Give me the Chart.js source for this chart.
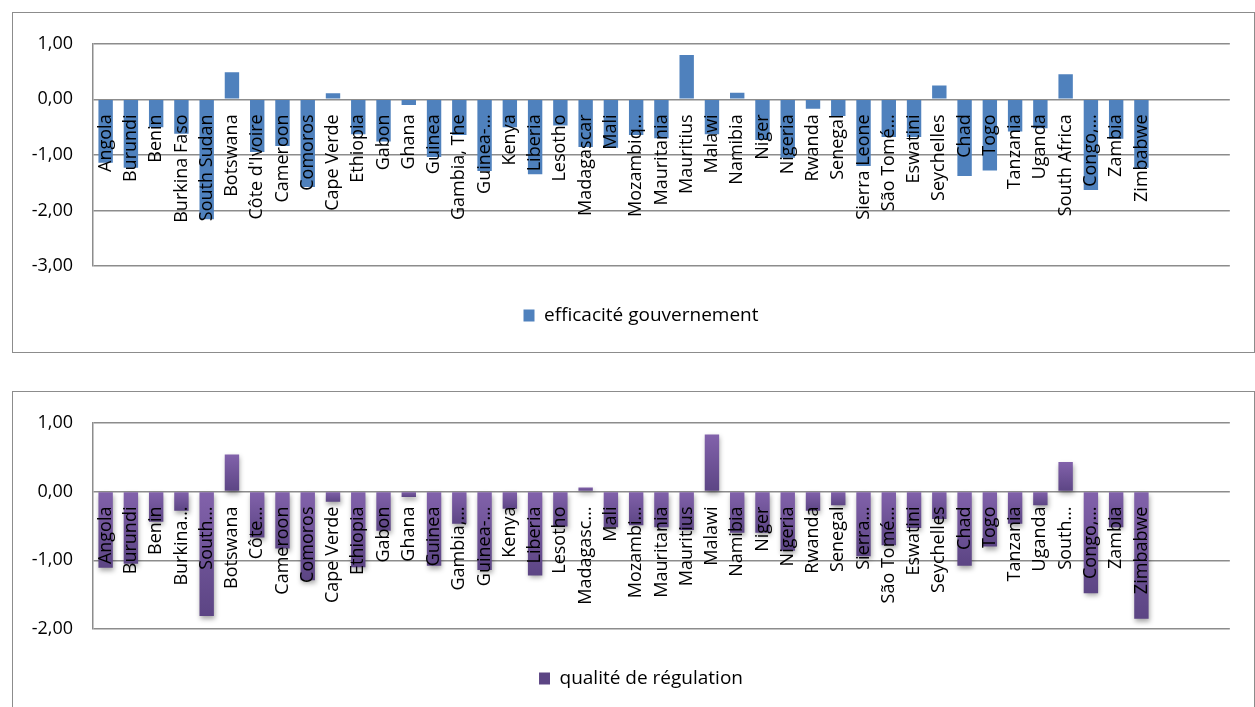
<!DOCTYPE html>
<html lang="fr">
<head>
  <meta charset="UTF-8">
  <title>Efficacité gouvernement / qualité de régulation</title>
  <style>
    body {
      margin: 0;
      padding: 0;
      background: #fff;
      overflow: hidden;
      font-family: "Open Sans", sans-serif;
    }
    .box {
      position: absolute;
      left: 12px;
      width: 1241px;
      border: 1px solid #8c8c8c;
      background: #fff;
    }
    #box1 { top: 12px; height: 339px; }
    #box2 { top: 391px; height: 330px; }
    canvas { display: block; }
  </style>
</head>
<body>
  <div class="box" id="box1"><canvas id="chartGov" width="1241" height="339"></canvas></div>
  <div class="box" id="box2"><canvas id="chartReg" width="1241" height="330"></canvas></div>

  <script src="https://cdn.jsdelivr.net/npm/chart.js"></script>
  <script>
    // country labels (as shown, some truncated by Excel)
    const labelsGov = ['Angola', 'Burundi', 'Benin', 'Burkina Faso', 'South Sudan', 'Botswana', "Côte d'Ivoire",
      'Cameroon', 'Comoros', 'Cape Verde', 'Ethiopia', 'Gabon', 'Ghana', 'Guinea', 'Gambia, The', 'Guinea-…',
      'Kenya', 'Liberia', 'Lesotho', 'Madagascar', 'Mali', 'Mozambiq…', 'Mauritania', 'Mauritius', 'Malawi',
      'Namibia', 'Niger', 'Nigeria', 'Rwanda', 'Senegal', 'Sierra Leone', 'São Tomé…', 'Eswatini', 'Seychelles',
      'Chad', 'Togo', 'Tanzania', 'Uganda', 'South Africa', 'Congo,…', 'Zambia', 'Zimbabwe', '', '', ''];

    const labelsReg = ['Angola', 'Burundi', 'Benin', 'Burkina…', 'South…', 'Botswana', 'Côte…',
      'Cameroon', 'Comoros', 'Cape Verde', 'Ethiopia', 'Gabon', 'Ghana', 'Guinea', 'Gambia,…', 'Guinea-…',
      'Kenya', 'Liberia', 'Lesotho', 'Madagasc…', 'Mali', 'Mozambi…', 'Mauritania', 'Mauritius', 'Malawi',
      'Namibia', 'Niger', 'Nigeria', 'Rwanda', 'Senegal', 'Sierra…', 'São Tomé…', 'Eswatini', 'Seychelles',
      'Chad', 'Togo', 'Tanzania', 'Uganda', 'South…', 'Congo,…', 'Zambia', 'Zimbabwe', '', '', ''];

    // efficacité gouvernement
    const govEffectiveness = [-1.14, -1.23, -0.50, -0.62, -2.16, 0.49, -0.95, -0.84, -1.58, 0.11,
      -0.63, -0.76, -0.10, -1.04, -0.64, -1.29, -0.50, -1.35, -0.47, -0.86,
      -0.87, -0.64, -0.70, 0.80, -0.63, 0.12, -0.73, -1.05, -0.17, -0.30,
      -1.20, -0.68, -0.68, 0.25, -1.38, -1.28, -0.58, -0.52, 0.45, -1.63,
      -0.71, -1.23];

    // qualité de régulation
    const regQuality = [-1.11, -1.05, -0.44, -0.28, -1.81, 0.54, -0.67, -0.83, -1.29, -0.15,
      -1.10, -0.57, -0.08, -1.08, -0.47, -1.14, -0.25, -1.22, -0.51, 0.06,
      -0.52, -0.49, -0.52, -0.56, 0.83, -0.60, -0.60, -0.86, -0.28, -0.20,
      -0.94, -0.78, -0.53, -0.40, -1.08, -0.80, -0.47, -0.20, 0.43, -1.48,
      -0.52, -1.85];

    const fontFamily = '"Open Sans", sans-serif';
    const gridColor = '#8c8c8c';

    function frComma(v) {
      return v.toFixed(2).replace('.', ',');
    }

    // Excel centres the legend a little to the right of the canvas centre
    const legendNudge = {
      id: 'legendNudge',
      afterLayout(chart) {
        chart.legend.left += 16;
        chart.legend.right += 16;
      }
    };

    function makeOptions(yMin, yMax, xHeight, bottomPad) {
      return {
        responsive: false,
        animation: false,
        devicePixelRatio: 1,
        layout: { padding: { top: 29, right: 17, bottom: bottomPad, left: 0 } },
        plugins: {
          tooltip: { enabled: false },
          legend: {
            position: 'bottom',
            labels: {
              color: '#000',
              font: { family: fontFamily, size: 19 },
              boxWidth: 11,
              boxHeight: 12,
              padding: 40
            }
          }
        },
        scales: {
          x: {
            position: { y: 0 },
            grid: { display: false, drawTicks: false },
            border: { display: false },
            ticks: {
              z: 1,
              autoSkip: false,
              maxRotation: 90,
              minRotation: 90,
              padding: 15,
              color: '#000',
              font: { family: fontFamily, size: 18 }
            },
            afterFit: (scale) => { scale.height = xHeight; }
          },
          y: {
            min: yMin,
            max: yMax,
            grid: { color: gridColor, lineWidth: 1.5, drawTicks: false },
            border: { color: gridColor, width: 1.5 },
            ticks: {
              stepSize: 1,
              padding: 20,
              color: '#000',
              font: { family: fontFamily, size: 18 },
              callback: (v) => frComma(v)
            },
            afterFit: (scale) => { scale.width = 80; }
          }
        }
      };
    }

    // top chart
    new Chart(document.getElementById('chartGov'), {
      type: 'bar',
      data: {
        labels: labelsGov,
        datasets: [{
          label: 'efficacité gouvernement',
          data: govEffectiveness,
          backgroundColor: '#4F81BD',
          barPercentage: 1,
          categoryPercentage: 0.57
        }]
      },
      options: makeOptions(-3, 1, 65, 17),
      plugins: [legendNudge]
    });

    // bottom chart: purple gradient bars with a soft shadow
    function purpleBar(ctx) {
      const chart = ctx.chart;
      if (ctx.type !== 'data' || !chart.chartArea || !chart.scales.y) return '#7358A0';
      const v = ctx.raw;
      const y = chart.scales.y;
      const top = y.getPixelForValue(Math.max(v, 0));
      const bot = y.getPixelForValue(Math.min(v, 0));
      if (!isFinite(top) || !isFinite(bot) || top === bot) return '#7358A0';
      const g = chart.ctx.createLinearGradient(0, top, 0, bot);
      g.addColorStop(0, '#8262AB');
      g.addColorStop(1, '#5C4584');
      return g;
    }

    const barShadow = {
      id: 'barShadow',
      beforeDatasetsDraw(chart) {
        const c = chart.ctx;
        c.save();
        c.shadowColor = 'rgba(0,0,0,0.35)';
        c.shadowBlur = 5;
        c.shadowOffsetX = 1;
        c.shadowOffsetY = 3;
      },
      afterDatasetsDraw(chart) {
        chart.ctx.restore();
      }
    };

    new Chart(document.getElementById('chartReg'), {
      type: 'bar',
      data: {
        labels: labelsReg,
        datasets: [{
          label: 'qualité de régulation',
          data: regQuality,
          backgroundColor: purpleBar,
          barPercentage: 1,
          categoryPercentage: 0.57
        }]
      },
      options: makeOptions(-2, 1, 67, 24),
      plugins: [barShadow, legendNudge]
    });
  </script>
</body>
</html>
